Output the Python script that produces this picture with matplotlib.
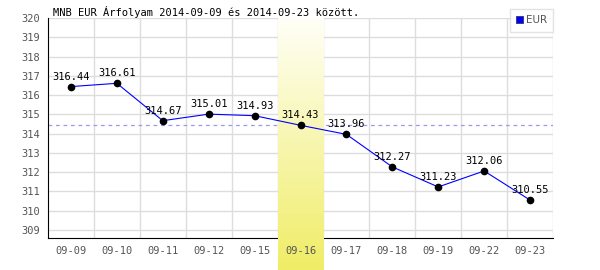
import matplotlib
matplotlib.use('Agg')
import matplotlib.pyplot as plt
import numpy as np

dates = ['09-09', '09-10', '09-11', '09-12', '09-15', '09-16',
         '09-17', '09-18', '09-19', '09-22', '09-23']
eur = [316.44, 316.61, 314.67, 315.01, 314.93, 314.43,
       313.96, 312.27, 311.23, 312.06, 310.55]
ref_level = 314.45
highlight = '09-16'
yticks = list(range(309, 321))

mono = 'DejaVu Sans Mono'

fig = plt.figure(figsize=(6, 2.7), dpi=100)
ax = fig.add_axes([48/600, 1-238/270, 505/600, 220/270])

n = len(dates)
x = np.arange(n)
ymin, ymax = 308.58, 320

# grid by hand so the highlight band can sit above it
for b in np.arange(-0.5, n, 1.0)[1:]:
    ax.axvline(b, color='#dddddd', lw=1, zorder=0.5)
for t in yticks:
    ax.axhline(t, color='#dddddd', lw=1, zorder=0.5)

ax.axhline(ref_level, color='#9999ee', lw=0.9, ls=(0, (3, 3)), zorder=0.6)

# yellow gradient band, runs down past the axis to the bottom of the figure
hi = dates.index(highlight)
per_px = (ymax - ymin) / 220
ybot = ymin - 32*per_px
grad = np.linspace(0, 1, 256)[:, None, None]
top_c = np.array([1.0, 1.0, 0.97])
bot_c = np.array([0.94, 0.93, 0.40])
img = top_c + (bot_c - top_c) * grad
ax.imshow(img, extent=[hi-0.5, hi+0.5, ybot, ymax], aspect='auto',
          origin='upper', zorder=1, clip_on=False, interpolation='bilinear')
ax.set_xlim(-0.5, n-0.5)
ax.set_ylim(ymin, ymax)

ax.plot(x, eur, color='#0000ff', lw=0.8, zorder=3)
ax.plot(x, eur, 'o', color='black', ms=4.5, zorder=4)
for xi, v in zip(x, eur):
    ax.annotate('%.2f' % v, (xi, v), xytext=(0, 3.5), textcoords='offset points',
                ha='center', va='bottom', fontsize=7.5, family=mono, color='black', zorder=5)

ax.set_xticks(x)
ax.set_xticklabels(dates)
ax.set_yticks(yticks)
ax.tick_params(length=0, labelsize=7.5, colors='#555555', pad=6)
for lab in ax.get_xticklabels() + ax.get_yticklabels():
    lab.set_family(mono)

for s in ['top', 'right']:
    ax.spines[s].set_visible(False)
ax.spines['left'].set_color('black')
ax.spines['bottom'].set_color('black')
ax.spines['left'].set_zorder(0.8)
ax.spines['bottom'].set_zorder(0.8)
ax.set_facecolor('none')

fig.text(53/600, 1-16/270, 'MNB EUR Árfolyam 2014-09-09 és 2014-09-23 között.',
         fontsize=7.5, family=mono, color='black', va='baseline')

# legend box
leg = ax.legend([plt.Rectangle((0, 0), 1, 1, fc='#0000ff', ec='#333366', lw=0.6)], ['EUR'],
                loc='upper right', bbox_to_anchor=(1.0, 1 + 9/220), fontsize=7.5,
                frameon=True, fancybox=False, handlelength=0.6, handleheight=0.6,
                handletextpad=0.3, borderpad=0.6, borderaxespad=0)
leg.get_frame().set_edgecolor('#dddddd')
leg.get_frame().set_linewidth(1)
for t in leg.get_texts():
    t.set_color('#555555')
leg.set_zorder(6)

fig.savefig('out.png', dpi=100)
